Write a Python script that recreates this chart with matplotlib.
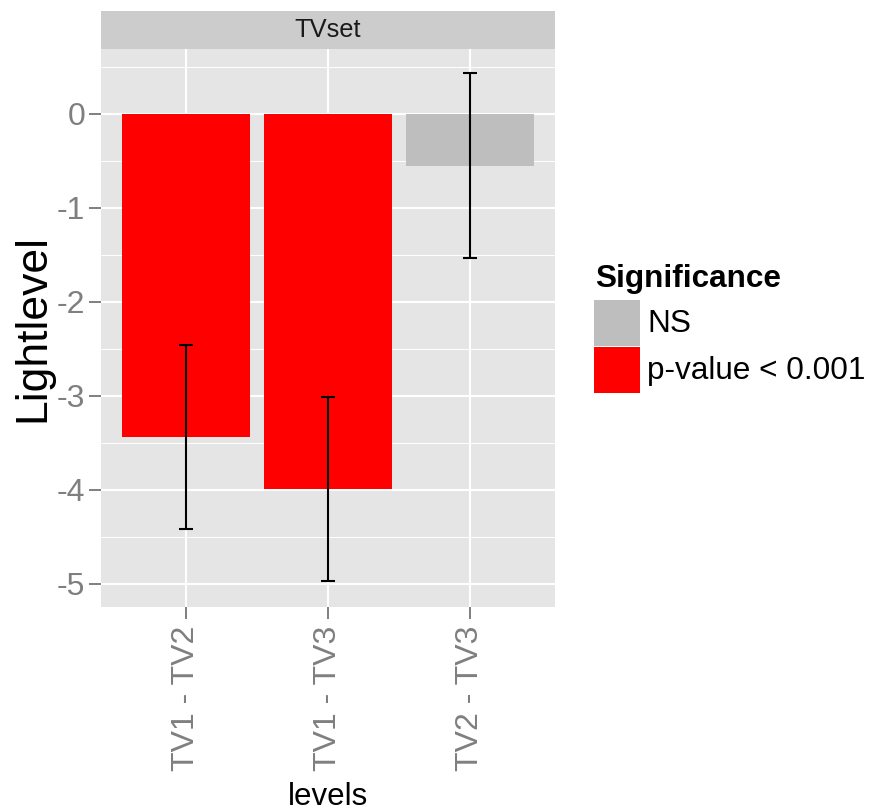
import numpy as np
import matplotlib
matplotlib.use("Agg")
import matplotlib.pyplot as plt
from matplotlib.patches import Rectangle

plt.rcParams['font.family'] = ['Liberation Sans', 'DejaVu Sans']
plt.rcParams['axes.unicode_minus'] = False

levels = ['TV1 - TV2', 'TV1 - TV3', 'TV2 - TV3']
estimate = [-3.44, -3.99, -0.55]
lower = [-4.42, -4.97, -1.53]
upper = [-2.46, -3.01, 0.43]
significance = ['p-value < 0.001', 'p-value < 0.001', 'NS']
sig_levels = ['NS', 'p-value < 0.001']
sig_colors = {'NS': '#BEBEBE', 'p-value < 0.001': '#FF0000'}

W, H = 870, 811
fig = plt.figure(figsize=(8.7, 8.11), dpi=100)
ax = fig.add_axes([101/W, 204/H, 454/W, 558/H])
ax.set_facecolor('#E5E5E5')

x = np.arange(1, len(levels) + 1)
ax.bar(x, estimate, width=0.9, color=[sig_colors[s] for s in significance], zorder=3)
est = np.array(estimate)
yerr = [est - np.array(lower), np.array(upper) - est]
ax.errorbar(x, est, yerr=yerr, fmt='none', ecolor='black', elinewidth=1.5,
            capsize=5, capthick=1.5, zorder=4)

ax.set_xlim(0.4, 3.6)
ax.set_ylim(-5.245, 0.69)
ax.set_xticks(x)
ax.set_xticklabels(levels, rotation=90)
ax.set_yticks(np.arange(-5, 1, 1))
ax.set_yticks(np.arange(-4.5, 0.6, 1), minor=True)
ax.grid(True, which='major', color='white', linewidth=1.5, zorder=1)
ax.grid(True, which='minor', axis='y', color='white', linewidth=0.7, zorder=1)
ax.set_axisbelow(True)
for s in ax.spines.values():
    s.set_visible(False)
ax.tick_params(axis='both', which='major', length=8.5, width=1.4, color='#7F7F7F',
               labelcolor='#7F7F7F', labelsize=23)
ax.tick_params(axis='y', pad=3)
ax.tick_params(axis='x', pad=5)
ax.tick_params(which='minor', length=0)

ax.set_ylabel('Lightlevel', fontsize=32, labelpad=2)
ax.set_xlabel('levels', fontsize=22.5, labelpad=8)

# facet strip
strip = Rectangle((101/W, 762/H), 454/W, 38/H, transform=fig.transFigure,
                  facecolor='#CCCCCC', edgecolor='none')
fig.add_artist(strip)
fig.text((101 + 454/2)/W, 781/H, 'TVset', ha='center', va='center', fontsize=18.4,
         color='#1A1A1A')

# legend (ggplot style keys)
fig.text(595/W, 1 - 287/H, 'Significance', fontsize=22.7, fontweight='bold',
         va='baseline', ha='left')
key_top = 300
for i, lab in enumerate(sig_levels):
    top = key_top + i * 47
    fig.add_artist(Rectangle((594/W, 1 - (top + 46)/H), 46/W, 46/H,
                             transform=fig.transFigure, facecolor=sig_colors[lab],
                             edgecolor='none'))
    fig.text(647/W, 1 - (top + 32)/H, lab, fontsize=22.7, va='baseline', ha='left')

fig.savefig('out.png', dpi=100)
